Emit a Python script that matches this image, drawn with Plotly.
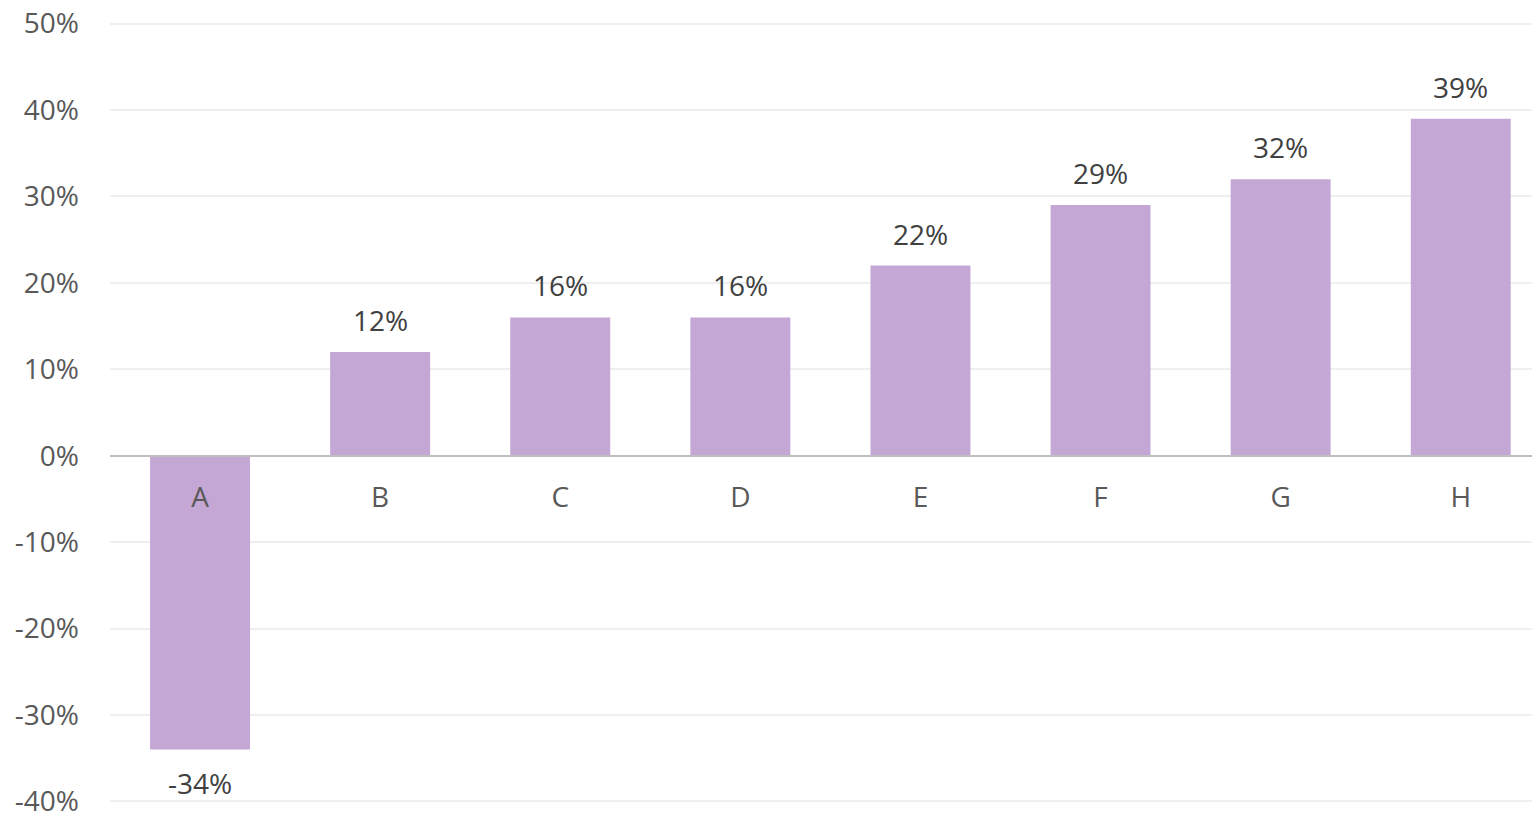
import plotly.graph_objects as go

categories = ["A", "B", "C", "D", "E", "F", "G", "H"]
values = [-0.34, 0.12, 0.16, 0.16, 0.22, 0.29, 0.32, 0.39]
tick_vals = [-0.4, -0.3, -0.2, -0.1, 0.0, 0.1, 0.2, 0.3, 0.4, 0.5]
tick_text = ["-40%", "-30%", "-20%", "-10%", "0%", "10%", "20%", "30%", "40%", "50%"]

BAR = "#C5A7D6"
AXIS_TXT = "#595959"
LABEL_TXT = "#404040"
FONT = "Open Sans"

fig = go.Figure()
fig.add_trace(go.Bar(
    x=categories, y=values, width=0.555,
    marker=dict(color=BAR, line=dict(width=0)),
    hoverinfo="skip",
))

for c, v in zip(categories, values):
    fig.add_annotation(
        x=c, y=v, xref="x", yref="y",
        text=f"{round(v*100):d}%",
        showarrow=False,
        yanchor="middle",
        yshift=32 if v >= 0 else -33,
        font=dict(family=FONT, size=28, color=LABEL_TXT),
    )

y_lo, y_hi = -0.403, 0.503

fig.update_layout(
    width=1532, height=806,
    margin=dict(l=102, r=0, t=13, b=10, autoexpand=False),
    paper_bgcolor="white", plot_bgcolor="white",
    showlegend=False,
    font=dict(family=FONT, size=28, color=AXIS_TXT),
    xaxis=dict(
        range=[-0.5, 7.44],
        anchor="free", position=(0 - y_lo) / (y_hi - y_lo),
        showgrid=False, automargin=False,
        showline=True, linecolor="#BFBFBF", linewidth=2,
        ticks="", ticklabelstandoff=17,
        tickfont=dict(family=FONT, size=28, color=AXIS_TXT),
        zeroline=False,
    ),
    yaxis=dict(
        range=[y_lo, y_hi], automargin=False,
        tickvals=tick_vals, ticktext=tick_text,
        showgrid=True, gridcolor="#EFEFEF", gridwidth=1.5,
        zeroline=False, showline=False,
        ticks="", ticklabelstandoff=30,
        ticklabeloverflow="allow",
        tickfont=dict(family=FONT, size=28, color=AXIS_TXT),
    ),
)

fig.write_html("out.html")
